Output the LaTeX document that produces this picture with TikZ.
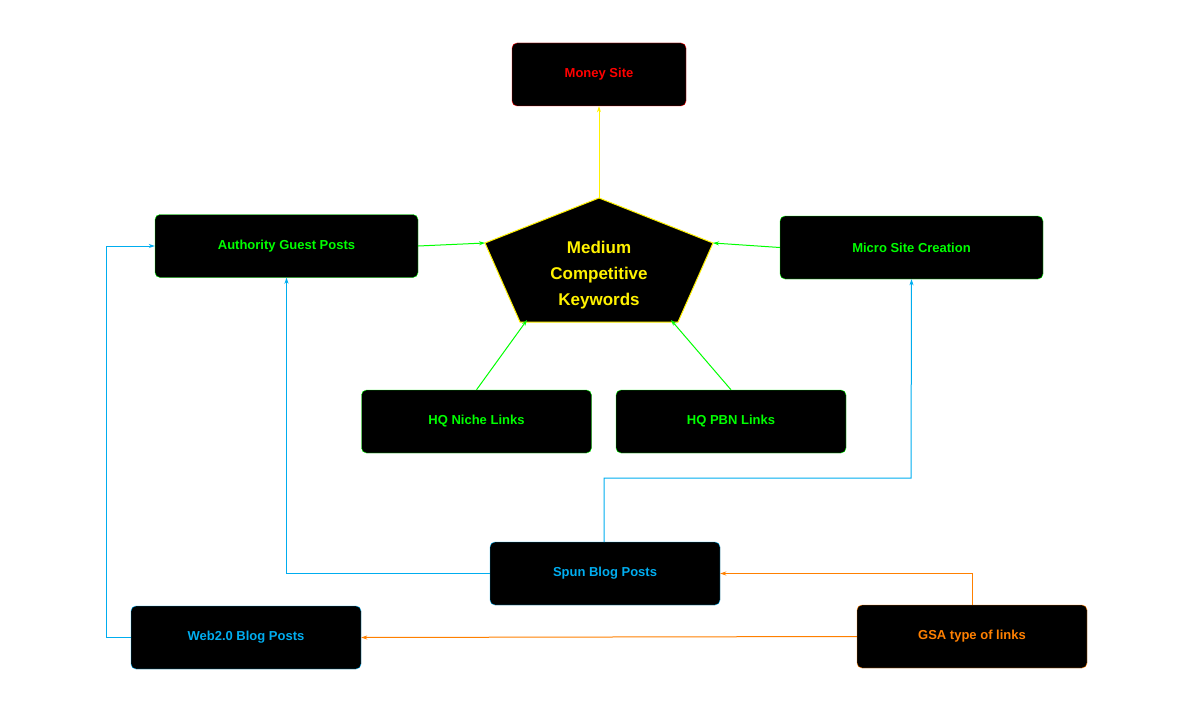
\documentclass[tikz,border=0pt]{standalone}
\usepackage{fontspec}
\setmainfont{Liberation Sans}
\usetikzlibrary{arrows.meta}
\begin{document}
\begin{tikzpicture}[x=1pt,y=-1pt,
  box/.style={draw,fill=black,rounded corners=5pt,minimum width=#1,minimum height=63pt,font=\bfseries\fontsize{13}{15}\selectfont,inner sep=0pt},
  box/.default=230pt,
  conn/.style={line width=1pt,-{Stealth[length=6pt,width=4pt]}}]
\useasboundingbox (0,0) rectangle (1198,722);
\node[box=174pt,draw=red,text=red] (money) at (599,74.5) {Money Site};
\coordinate (pt) at (599,198);
\coordinate (pl) at (485,243);
\coordinate (pr) at (713,243);
\coordinate (pbl) at (520,322);
\coordinate (pbr) at (678,322);
\coordinate (pinl) at (527,320);
\coordinate (pinr) at (671,320);
\draw[yellow,fill=black,line width=1pt] (pt)--(pr)--(pbr)--(pbl)--(pl)--cycle;
\node[text=yellow,font=\bfseries\fontsize{17}{26}\selectfont,align=center] (kw) at (599,275) {Medium\\Competitive\\Keywords};
\node[box=263pt,draw=green,text=green] (auth) at (286.5,246) {Authority Guest Posts};
\node[box=263pt,draw=green,text=green] (micro) at (911.5,247.5) {Micro Site Creation};
\node[box,draw=green,text=green] (niche) at (476.5,421.5) {HQ Niche Links};
\node[box,draw=green,text=green] (pbn) at (731,421.5) {HQ PBN Links};
\node[box,draw=cyan,text=cyan] (spun) at (605,573.5) {Spun Blog Posts};
\node[box,draw=cyan,text=cyan] (web) at (246,637.5) {Web2.0 Blog Posts};
\node[box,draw=orange,text=orange] (gsa) at (972,636.5) {GSA type of links};
\coordinate (spuntop) at (604,542);
\coordinate (cyanturn) at (911,478);
\coordinate (webleft) at (106,637.5);
\draw[conn,yellow] (pt) -- (money);
\draw[conn,green] (auth.east) -- (pl);
\draw[conn,green] (micro.west) -- (pr);
\draw[conn,green] (niche.north) -- (pinl);
\draw[conn,green] (pbn.north) -- (pinr);
\draw[conn,cyan] (spuntop) |- (cyanturn) -- (micro.south);
\draw[conn,cyan] (spun.west) -| (auth.south);
\draw[conn,cyan] (web.west) -- (webleft) |- (auth.west);
\draw[conn,orange] (gsa.north) |- (spun.east);
\draw[conn,orange] (gsa.west) -- (web.east);
\end{tikzpicture}
\end{document}
